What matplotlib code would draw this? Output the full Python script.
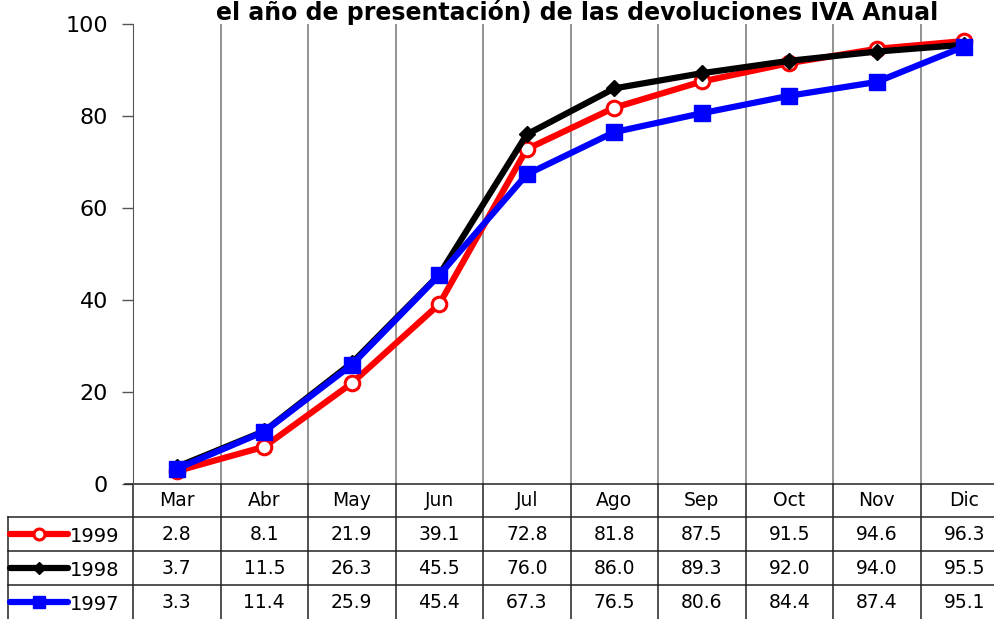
import matplotlib.pyplot as plt
from matplotlib.transforms import blended_transform_factory

months = ['Mar', 'Abr', 'May', 'Jun', 'Jul', 'Ago', 'Sep', 'Oct', 'Nov', 'Dic']
years = ['1999', '1998', '1997']
v1999 = [2.8, 8.1, 21.9, 39.1, 72.8, 81.8, 87.5, 91.5, 94.6, 96.3]
v1998 = [3.7, 11.5, 26.3, 45.5, 76.0, 86.0, 89.3, 92.0, 94.0, 95.5]
v1997 = [3.3, 11.4, 25.9, 45.4, 67.3, 76.5, 80.6, 84.4, 87.4, 95.1]
title = 'el año de presentación) de las devoluciones IVA Anual'

W, H = 994, 619
fig = plt.figure(figsize=(W / 100, H / 100), dpi=100)
plt.rcParams['font.family'] = ['DejaVu Sans']

# plot area in pixels: left 133, top 24, bottom 484, category width 87.5
ax = fig.add_axes([133 / W, (H - 484) / H, 875 / W, 460 / H])
ax.set_xlim(-0.5, 9.5)
ax.set_ylim(0, 100)
ax.set_yticks(range(0, 101, 20))
ax.tick_params(axis='y', labelsize=16, length=8, width=1, color='#555555', pad=10)
ax.set_xticks([])
for s in ['top', 'right', 'bottom']:
    ax.spines[s].set_visible(False)
ax.spines['left'].set_color('#555555')

x = list(range(len(months)))
for i in range(len(months) - 1):
    ax.axvline(i + 0.5, color='#808080', lw=1.2, zorder=1)

styles = [
    (v1999, dict(color='#ff0000', marker='o', markersize=10.5, markerfacecolor='white',
                 markeredgecolor='#ff0000', markeredgewidth=2.2)),
    (v1998, dict(color='black', marker='D', markersize=8.5)),
    (v1997, dict(color='#0000ff', marker='s', markersize=12)),
]
for k, (vals, st) in enumerate(styles):
    ax.plot(x, vals, lw=4.5, zorder=3 + k, clip_on=False, **st)

# data table below the axes
tr = blended_transform_factory(ax.transData, ax.transAxes)
px = 1 / 460.0
rows_y = [0, -33 * px, -67 * px, -101 * px, -135 * px]
left_x = -0.5 - 125 / 87.5
line_kw = dict(color='#222222', lw=1.1, transform=tr, clip_on=False)

ax.plot([-0.5 - 8 / 87.5, 9.6], [0, 0], **line_kw)
for yb in rows_y[1:4]:
    ax.plot([left_x, 9.6], [yb, yb], **line_kw)
for i in range(len(months)):
    ax.plot([i + 0.5, i + 0.5], [0, rows_y[-1]], **line_kw)
ax.plot([-0.5, -0.5], [0, rows_y[-1]], **line_kw)
ax.plot([left_x, left_x], [rows_y[1], rows_y[-1]], **line_kw)

for i, m in enumerate(months):
    ax.text(i, (rows_y[0] + rows_y[1]) / 2, m, transform=tr, ha='center', va='center',
            fontsize=13.5)

table_vals = [v1999, v1998, v1997]
for r, (vals, st) in enumerate(styles):
    yc = (rows_y[r + 1] + rows_y[r + 2]) / 2
    for i, v in enumerate(table_vals[r]):
        ax.text(i, yc, f'{v:.1f}', transform=tr, ha='center', va='center', fontsize=13.5)
    kx0 = -0.5 - 123 / 87.5
    kx1 = -0.5 - 65 / 87.5
    key = {k: v for k, v in st.items() if k not in ('marker', 'markersize')}
    ax.plot([kx0, kx1], [yc, yc], transform=tr, clip_on=False, lw=4.5,
            solid_capstyle='round', **key)
    ax.plot([(kx0 + kx1) / 2], [yc], transform=tr, clip_on=False, lw=0,
            marker=st['marker'], markersize=st['markersize'] * 0.75, **key)
    ax.text(-0.5 - 63 / 87.5, yc - 3 * px, years[r], transform=tr, ha='left', va='center',
            fontsize=14)

fig.text(577 / W, 1 - 20 / H, title, ha='center', va='baseline', fontsize=17,
         fontweight='bold')

fig.savefig('out.png', dpi=100)
